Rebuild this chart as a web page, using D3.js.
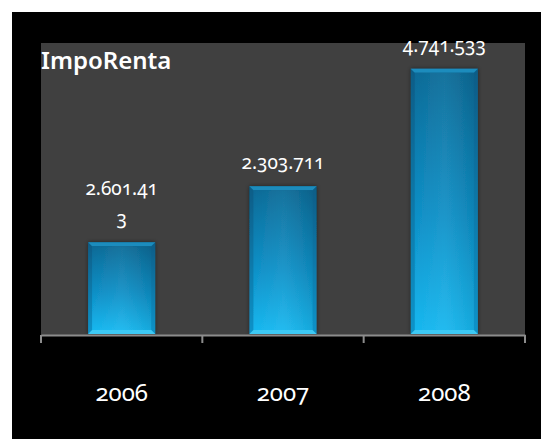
<!DOCTYPE html>
<html>
<head>
<meta charset="utf-8">
<script src="https://cdn.jsdelivr.net/npm/d3@7"></script>
<style>
  html, body { margin: 0; padding: 0; background: #ffffff; }
  svg { display: block; }
  text { font-family: "Noto Sans", "Open Sans", sans-serif; font-variant-numeric: oldstyle-nums; font-feature-settings: "onum" 1; }
</style>
</head>
<body>
<svg id="chart" width="541" height="439"></svg>
<script>
// ---- data ----
const title = "ImpoRenta";
const categories = ["2006", "2007", "2008"];
// bar heights as drawn in the picture (estimated)
const barValues = [1650000, 2650000, 4741533];
// data labels as printed on the chart (first one wraps onto two lines)
const labelLines = [["2.601.41", "3"], ["2.303.711"], ["4.741.533"]];
const yMax = 5200000;

// ---- layout ----
const W = 541, H = 439;
const plot = { left: 41, right: 525, top: 43, bottom: 335 };

const svg = d3.select("#chart");
const defs = svg.append("defs");

const gMain = defs.append("linearGradient").attr("id", "barGrad")
  .attr("x1", 0).attr("y1", 0).attr("x2", 0).attr("y2", 1);
gMain.append("stop").attr("offset", "0%").attr("stop-color", "#0a6a97");
gMain.append("stop").attr("offset", "55%").attr("stop-color", "#0e8fc6");
gMain.append("stop").attr("offset", "100%").attr("stop-color", "#16b6ee");

const gEdge = defs.append("linearGradient").attr("id", "edgeGrad")
  .attr("x1", 0).attr("y1", 0).attr("x2", 0).attr("y2", 1);
gEdge.append("stop").attr("offset", "0%").attr("stop-color", "#0a5c86");
gEdge.append("stop").attr("offset", "100%").attr("stop-color", "#0f93c9");

const gSide = defs.append("linearGradient").attr("id", "sideGrad")
  .attr("x1", 0).attr("y1", 0).attr("x2", 1).attr("y2", 0);
gSide.append("stop").attr("offset", "0%").attr("stop-color", "#ffffff").attr("stop-opacity", 0.0);
gSide.append("stop").attr("offset", "50%").attr("stop-color", "#ffffff").attr("stop-opacity", 0.06);
gSide.append("stop").attr("offset", "100%").attr("stop-color", "#000000").attr("stop-opacity", 0.08);

const shadow = defs.append("filter").attr("id", "shadow")
  .attr("x", "-30%").attr("y", "-10%").attr("width", "160%").attr("height", "120%");
shadow.append("feGaussianBlur").attr("in", "SourceAlpha").attr("stdDeviation", 2).attr("result", "b");
shadow.append("feFlood").attr("flood-color", "#000").attr("flood-opacity", 0.45);
shadow.append("feComposite").attr("in2", "b").attr("operator", "in").attr("result", "s");
const mrg = shadow.append("feMerge");
mrg.append("feMergeNode").attr("in", "s");
mrg.append("feMergeNode").attr("in", "SourceGraphic");

// background
svg.append("rect").attr("x", 0).attr("y", 0).attr("width", W).attr("height", H).attr("fill", "#ffffff");
svg.append("rect").attr("x", 12).attr("y", 12).attr("width", W - 12).attr("height", H - 12).attr("fill", "#000000");
svg.append("rect").attr("x", plot.left).attr("y", plot.top)
  .attr("width", plot.right - plot.left).attr("height", plot.bottom - plot.top).attr("fill", "#404040");

// scales
const xCat = d3.scaleBand().domain(categories).range([plot.left, plot.right]).padding(0);
const x = d3.scaleBand().domain(categories).range([plot.left, plot.right])
  .paddingInner(0.584).paddingOuter(0.292);
const y = d3.scaleLinear().domain([0, yMax]).range([plot.bottom, plot.top]);

// bars
const bars = svg.append("g").selectAll("g").data(categories).join("g")
  .attr("filter", "url(#shadow)");
bars.each(function(d, i) {
  const g = d3.select(this);
  const bx = x(d), bw = x.bandwidth();
  const by = y(barValues[i]), bh = y(0) - y(barValues[i]) - 1;
  const inset = 4;
  g.append("rect").attr("x", bx).attr("y", by).attr("width", bw).attr("height", bh)
    .attr("fill", "url(#edgeGrad)");
  g.append("path")
    .attr("d", `M${bx},${by} L${bx + bw},${by} L${bx + bw - inset},${by + inset} L${bx + inset},${by + inset} Z`)
    .attr("fill", "#1b8cbd");
  g.append("path")
    .attr("d", `M${bx},${by + bh} L${bx + bw},${by + bh} L${bx + bw - inset},${by + bh - inset} L${bx + inset},${by + bh - inset} Z`)
    .attr("fill", "#3dc9f4");
  g.append("rect").attr("x", bx + inset).attr("y", by + inset)
    .attr("width", bw - 2 * inset).attr("height", bh - 2 * inset)
    .attr("fill", "url(#barGrad)");
  g.append("rect").attr("x", bx + inset).attr("y", by + inset)
    .attr("width", bw - 2 * inset).attr("height", bh - 2 * inset)
    .attr("fill", "url(#sideGrad)");
});

// axis
const axis = d3.axisBottom(xCat).tickSize(0).tickFormat("");
const gAxis = svg.append("g").attr("transform", `translate(0,${plot.bottom})`).call(axis);
gAxis.select(".domain").attr("stroke", "#8c8c8c").attr("stroke-width", 2);
const bounds = categories.map(d => xCat(d)).concat([xCat.range()[1]]);
gAxis.selectAll("line.bound").data(bounds).join("line").attr("class", "bound")
  .attr("x1", d => d).attr("x2", d => d).attr("y1", 0).attr("y2", 8)
  .attr("stroke", "#8c8c8c").attr("stroke-width", 2);

// category labels
svg.append("g").selectAll("text").data(categories).join("text")
  .attr("x", d => x(d) + x.bandwidth() / 2)
  .attr("y", 401)
  .attr("text-anchor", "middle")
  .attr("fill", "#ffffff")
  .attr("font-size", 24)
  .text(d => d);

// data labels
const lineH = 30;
svg.append("g").selectAll("text").data(categories).join("text")
  .attr("text-anchor", "middle")
  .attr("fill", "#ffffff")
  .attr("font-size", 19)
  .each(function(d, i) {
    const lines = labelLines[i];
    const cx = x(d) + x.bandwidth() / 2;
    const base = y(barValues[i]) - 17 - (lines.length - 1) * lineH;
    d3.select(this).selectAll("tspan").data(lines).join("tspan")
      .attr("x", cx).attr("y", (l, k) => base + k * lineH).text(l => l);
  });

// title
svg.append("text").attr("x", 41).attr("y", 69)
  .attr("fill", "#ffffff").attr("font-size", 24).attr("font-weight", 600)
  .style("font-variant-numeric", "normal")
  .text(title);
</script>
</body>
</html>
